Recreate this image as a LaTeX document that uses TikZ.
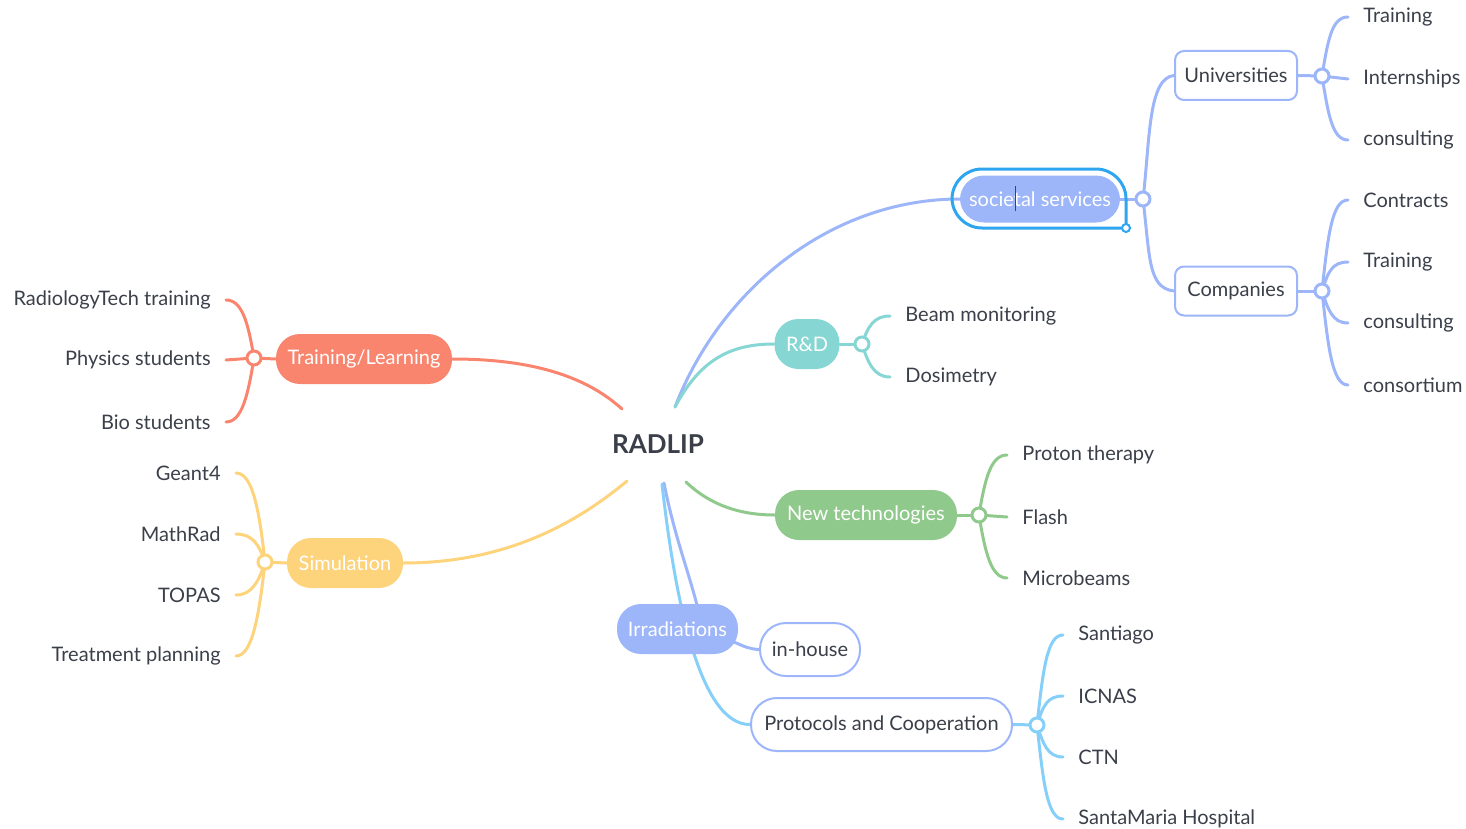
\documentclass[tikz,border=0pt]{standalone}
\usepackage{fontspec}
\setmainfont{Lato}
\usetikzlibrary{backgrounds}
\definecolor{cTL}{HTML}{F9856F}
\definecolor{cRD}{HTML}{86D6D4}
\definecolor{cNT}{HTML}{90C98C}
\definecolor{cSI}{HTML}{FDD37C}
\definecolor{cBP}{HTML}{9DB5F9}
\definecolor{cLB}{HTML}{86CFF8}
\definecolor{cSel}{HTML}{2EA5EF}
\definecolor{cTxt}{HTML}{3A3F49}
\begin{document}
\begin{tikzpicture}[x=0.5pt,y=0.5pt,
  every node/.style={font=\fontsize{10pt}{12pt}\selectfont, text=cTxt},
  pill/.style={fill=#1, rounded corners=12pt, minimum height=25pt, inner sep=0pt, text=white},
  opill/.style={draw=cBP, line width=1pt, fill=white, rounded corners=13pt, minimum height=26.5pt, inner sep=0pt},
  obox/.style={draw=cBP, line width=1pt, fill=white, rounded corners=4.5pt, minimum height=24.5pt, minimum width=61pt, inner sep=0pt},
  hub/.style={circle, draw=#1, fill=white, line width=1.5pt, minimum size=7pt, inner sep=0pt},
  leafR/.style={anchor=west, inner xsep=7.5pt, inner ysep=1pt, yshift=-1pt},
  leafL/.style={anchor=east, inner xsep=7.5pt, inner ysep=1pt, yshift=-1pt},
  link/.style={draw=#1, line width=1.5pt, line cap=round},
]
\useasboundingbox (0,0) rectangle (1466,-829);

% root
\node[font=\fontsize{13pt}{15pt}\selectfont\bfseries] (root) at (658,-444) {RADLIP};
\coordinate (rA) at (675,-407);
\coordinate (rTL) at (622,-409);
\coordinate (rSI) at (627,-481);
\coordinate (rNT) at (686,-482);
\coordinate (rIR) at (664,-483);
\coordinate (rPC) at (662,-484);

% Training / Learning
\node[pill=cTL, minimum width=88pt] (tl) at (364,-359) {Training/Learning};
\node[hub=cTL] (tlh) at (254,-358) {};
\node[leafL] (tl1) at (226,-298) {RadiologyTech training};
\node[leafL] (tl2) at (226,-358) {Physics students};
\node[leafL] (tl3) at (226,-420) {Bio students};

% Simulation
\node[pill=cSI, minimum width=58pt] (si) at (345,-563) {Simulation};
\node[hub=cSI] (sih) at (265,-562) {};
\node[leafL] (si1) at (236,-471) {Geant4};
\node[leafL] (si2) at (236,-532) {MathRad};
\node[leafL] (si3) at (236,-593) {TOPAS};
\node[leafL] (si4) at (236,-654) {Treatment planning};

% R&D
\node[pill=cRD, minimum width=32.5pt] (rd) at (807,-344) {R\&D};
\node[hub=cRD] (rdh) at (862,-344) {};
\node[leafR] (rd1) at (890,-314) {Beam monitoring};
\node[leafR] (rd2) at (890,-375) {Dosimetry};

% societal services
\node[pill=cBP, minimum width=80pt, minimum height=23.5pt] (so) at (1040,-199) {societal services};
\draw[cSel, line width=1.5pt] (1126,-228) [rounded corners=15pt] -- (952,-228) -- (952,-169) -- (1126,-169) -- (1126,-228);
\node[circle, draw=cSel, fill=white, line width=1pt, minimum size=4pt, inner sep=0pt] (handle) at (1126,-228) {};
\draw[cSel!50!black, line width=0.4pt] (1015,-186) -- (1015,-211);
\node[hub=cBP] (soh) at (1143,-199) {};
\node[obox] (un) at (1236,-75.5) {Universities};
\node[hub=cBP] (unh) at (1322,-76) {};
\node[leafR] (un1) at (1348,-15) {Training};
\node[leafR] (un2) at (1348,-77) {Internships};
\node[leafR] (un3) at (1348,-138) {consulting};
\node[obox] (co) at (1236,-291) {Companies};
\node[hub=cBP] (coh) at (1322,-291) {};
\node[leafR] (co1) at (1348,-198) {Contracts};
\node[leafR] (co2) at (1348,-260) {Training};
\node[leafR] (co3) at (1348,-321) {consulting};
\node[leafR] (co4) at (1348,-383) {consortium};

% New technologies
\node[pill=cNT, minimum width=91pt] (nt) at (866,-515) {New technologies};
\node[hub=cNT] (nth) at (979,-515) {};
\node[leafR] (nt1) at (1007,-453) {Proton therapy};
\node[leafR] (nt2) at (1007,-515) {Flash};
\node[leafR] (nt3) at (1007,-576) {Microbeams};

% Irradiations
\node[pill=cBP, minimum width=60.5pt] (ir) at (677.5,-629) {Irradiations};
\coordinate (irR) at (734,-642);
\coordinate (irT) at (700,-618);
\node[opill, minimum width=50pt] (ih) at (810,-649.5) {in-house};
\node[opill, minimum width=130.5pt] (pc) at (881.5,-724.5) {Protocols and Cooperation};
\node[hub=cLB] (pch) at (1037,-725) {};
\node[leafR] (pc1) at (1063,-633) {Santiago};
\node[leafR] (pc2) at (1063,-694) {ICNAS};
\node[leafR] (pc3) at (1063,-755) {CTN};
\node[leafR] (pc4) at (1063,-817) {SantaMaria Hospital};

\begin{scope}[on background layer]
% main branches
\draw[link=cTL] (tl.east) .. controls (540,-359) and (590,-380) .. (rTL);
\draw[link=cSI] (si.east) .. controls (510,-563) and (580,-520) .. (rSI);
\draw[link=cBP] (rA) .. controls (720,-290) and (830,-199) .. (so.west);
\draw[link=cRD] (rA) .. controls (700,-360) and (730,-344) .. (rd.west);
\draw[link=cNT] (rNT) .. controls (710,-505) and (740,-515) .. (nt.west);
\draw[link=cBP] (rIR) .. controls (675,-540) and (692,-580) .. (irT);
\draw[link=cLB] (rPC) .. controls (675,-600) and (700,-725) .. (pc.west);
\draw[link=cBP] (irR) .. controls (745,-647) and (750,-649) .. (ih.west);

% Training/Learning leaves
\draw[link=cTL] (tl.west) -- (tlh.center);
\draw[link=cTL] (tlh.center) .. controls +(-6,36) and +(16,0) .. (tl1.east);
\draw[link=cTL] (tlh.center) -- (tl2.east);
\draw[link=cTL] (tlh.center) .. controls +(-6,-37) and +(16,0) .. (tl3.east);

% Simulation leaves
\draw[link=cSI] (si.west) -- (sih.center);
\draw[link=cSI] (sih.center) .. controls +(-6,55) and +(16,0) .. (si1.east);
\draw[link=cSI] (sih.center) .. controls +(-6,18) and +(16,0) .. (si2.east);
\draw[link=cSI] (sih.center) .. controls +(-6,-19) and +(16,0) .. (si3.east);
\draw[link=cSI] (sih.center) .. controls +(-6,-55) and +(16,0) .. (si4.east);

% R&D leaves
\draw[link=cRD] (rd.east) -- (rdh.center);
\draw[link=cRD] (rdh.center) .. controls +(6,18) and +(-16,0) .. (rd1.west);
\draw[link=cRD] (rdh.center) .. controls +(6,-19) and +(-16,0) .. (rd2.west);

% societal
\draw[link=cBP] (so.east) -- (soh.center);
\draw[link=cBP] (soh.center) .. controls (1150,-140) and (1148,-78) .. (un.west);
\draw[link=cBP] (soh.center) .. controls (1150,-258) and (1148,-288) .. (co.west);
\draw[link=cBP] (un.east) -- (unh.center);
\draw[link=cBP] (unh.center) .. controls +(6,37) and +(-16,0) .. (un1.west);
\draw[link=cBP] (unh.center) -- (un2.west);
\draw[link=cBP] (unh.center) .. controls +(6,-37) and +(-16,0) .. (un3.west);
\draw[link=cBP] (co.east) -- (coh.center);
\draw[link=cBP] (coh.center) .. controls +(6,56) and +(-16,0) .. (co1.west);
\draw[link=cBP] (coh.center) .. controls +(6,19) and +(-16,0) .. (co2.west);
\draw[link=cBP] (coh.center) .. controls +(6,-18) and +(-16,0) .. (co3.west);
\draw[link=cBP] (coh.center) .. controls +(6,-55) and +(-16,0) .. (co4.west);

% New technologies leaves
\draw[link=cNT] (nt.east) -- (nth.center);
\draw[link=cNT] (nth.center) .. controls +(6,37) and +(-16,0) .. (nt1.west);
\draw[link=cNT] (nth.center) -- (nt2.west);
\draw[link=cNT] (nth.center) .. controls +(6,-37) and +(-16,0) .. (nt3.west);

% Protocols leaves
\draw[link=cLB] (pc.east) -- (pch.center);
\draw[link=cLB] (pch.center) .. controls +(6,55) and +(-16,0) .. (pc1.west);
\draw[link=cLB] (pch.center) .. controls +(6,19) and +(-16,0) .. (pc2.west);
\draw[link=cLB] (pch.center) .. controls +(6,-18) and +(-16,0) .. (pc3.west);
\draw[link=cLB] (pch.center) .. controls +(6,-55) and +(-16,0) .. (pc4.west);
\end{scope}
\end{tikzpicture}
\end{document}
